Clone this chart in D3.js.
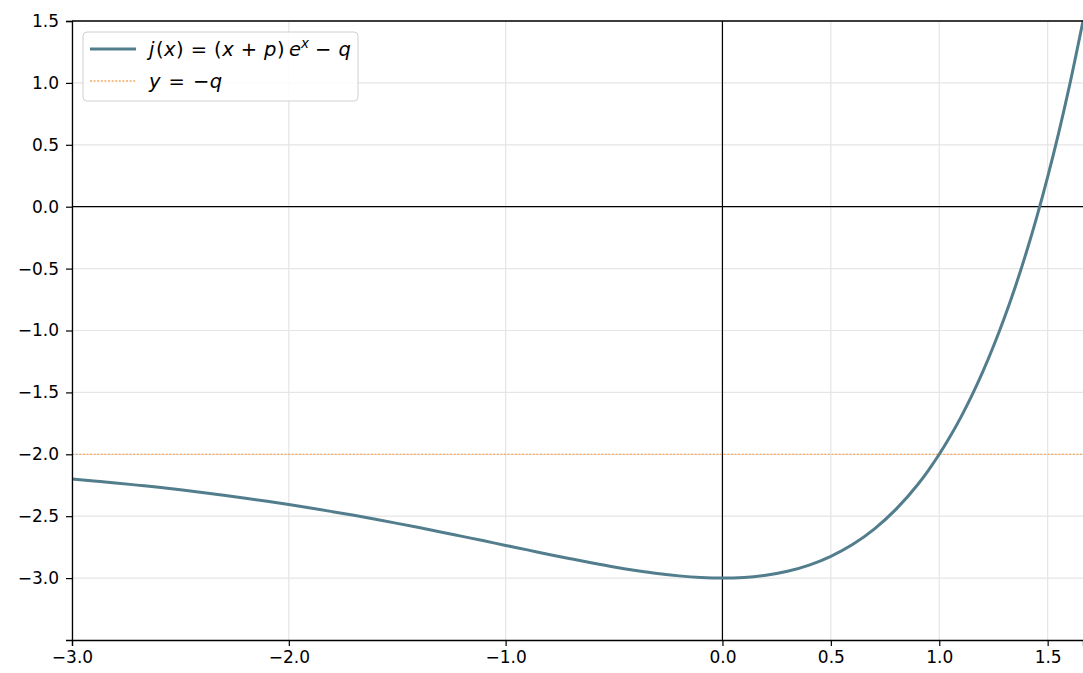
<!DOCTYPE html>
<html>
<head>
<meta charset="utf-8">
<script src="https://cdn.jsdelivr.net/npm/d3@7"></script>
<style>
  body { margin: 0; background: #fff; }
  svg { font-family: "DejaVu Sans", sans-serif; }
  .tick text { font-size: 17px; fill: #000; }
  .grid line { stroke: #e5e5e5; stroke-width: 1.2; }
</style>
</head>
<body>
<svg width="1083" height="673"></svg>
<script>
// curve samples j(x)
var xs = [-3.0, -2.9, -2.8, -2.7, -2.6, -2.5, -2.4, -2.3, -2.2, -2.1,
          -2.0, -1.9, -1.8, -1.7, -1.6, -1.5, -1.4, -1.3, -1.2, -1.1,
          -1.0, -0.9, -0.8, -0.7, -0.6, -0.5, -0.4, -0.3, -0.2, -0.1,
          0.0, 0.1, 0.2, 0.3, 0.4, 0.5, 0.6, 0.7, 0.8, 0.9,
          0.95, 1.0, 1.05, 1.1, 1.15, 1.2, 1.25, 1.3, 1.35, 1.4,
          1.45, 1.5, 1.55, 1.6, 1.663];
var ys = [-2.199, -2.215, -2.231, -2.249, -2.267, -2.287, -2.308, -2.331, -2.355, -2.380,
          -2.406, -2.434, -2.463, -2.493, -2.525, -2.558, -2.592, -2.627, -2.663, -2.699,
          -2.736, -2.772, -2.809, -2.844, -2.878, -2.910, -2.938, -2.963, -2.982, -2.995,
          -3.000, -2.995, -2.977, -2.945, -2.895, -2.824, -2.729, -2.604, -2.445, -2.246,
          -2.129, -2.000, -1.857, -1.700, -1.526, -1.336, -1.127, -0.899, -0.650, -0.378,
          -0.082, 0.241, 0.591, 0.972, 1.500];
var qLevel = -2.0;

var xTicks = [-3.0, -2.0, -1.0, 0.0, 0.5, 1.0, 1.5];
var yTicks = [-3.0, -2.5, -2.0, -1.5, -1.0, -0.5, 0.0, 0.5, 1.0, 1.5];
var xDomain = [-3.0, 1.663];
var yDomain = [-3.5, 1.5];

var svg = d3.select('svg');
var padding = { t: 21, r: 0, b: 33, l: 72 };
var width = 1083 - padding.l - padding.r;
var height = 673 - padding.t - padding.b;

var xScale = d3.scaleLinear().domain(xDomain).range([0, width]);
var yScale = d3.scaleLinear().domain(yDomain).range([height, 0]);

var chartG = svg.append('g')
    .attr('transform', 'translate(' + [padding.l, padding.t] + ')');

// gridlines
chartG.append('g')
    .attr('class', 'grid')
    .selectAll('line.vx')
    .data(xTicks)
    .enter().append('line')
    .attr('x1', function (d) { return xScale(d); })
    .attr('x2', function (d) { return xScale(d); })
    .attr('y1', 0).attr('y2', height);

chartG.append('g')
    .attr('class', 'grid')
    .selectAll('line.hy')
    .data(yTicks)
    .enter().append('line')
    .attr('y1', function (d) { return yScale(d); })
    .attr('y2', function (d) { return yScale(d); })
    .attr('x1', 0).attr('x2', width);

// zero lines
chartG.append('line')
    .attr('x1', xScale(0)).attr('x2', xScale(0))
    .attr('y1', 0).attr('y2', height)
    .attr('stroke', '#000').attr('stroke-width', 1.2);
chartG.append('line')
    .attr('x1', 0).attr('x2', width)
    .attr('y1', yScale(0)).attr('y2', yScale(0))
    .attr('stroke', '#000').attr('stroke-width', 1.2);

// y = -q
chartG.append('line')
    .attr('x1', 0).attr('x2', width)
    .attr('y1', yScale(qLevel)).attr('y2', yScale(qLevel))
    .attr('stroke', '#f4ab62')
    .attr('stroke-width', 1.3)
    .attr('stroke-dasharray', '2,1.6');

// the curve
var pts = xs.map(function (x, i) { return [x, ys[i]]; });
var line = d3.line()
    .x(function (d) { return xScale(d[0]); })
    .y(function (d) { return yScale(d[1]); })
    .curve(d3.curveMonotoneX);

chartG.append('path')
    .datum(pts)
    .attr('d', line)
    .attr('fill', 'none')
    .attr('stroke', '#527d8c')
    .attr('stroke-width', 3);

// axes
var fmt = d3.format('.1f');
var xAxis = d3.axisBottom(xScale).tickValues(xTicks).tickFormat(fmt).tickSize(6).tickPadding(5);
var yAxis = d3.axisLeft(yScale).tickValues(yTicks).tickFormat(fmt).tickSize(6).tickPadding(7);

var gx = chartG.append('g')
    .attr('transform', 'translate(0,' + height + ')')
    .call(xAxis);
var gy = chartG.append('g').call(yAxis);

[gx, gy].forEach(function (g) {
    g.select('.domain').attr('stroke', '#000').attr('stroke-width', 1.3);
    g.selectAll('.tick line').attr('stroke', '#000').attr('stroke-width', 1.2);
    g.selectAll('.tick text').style('font-family', '"DejaVu Sans", sans-serif');
});

// top spine
chartG.append('line')
    .attr('x1', 0).attr('x2', width)
    .attr('y1', 0).attr('y2', 0)
    .attr('stroke', '#000').attr('stroke-width', 1.3);

// legend
var legendG = svg.append('g').attr('transform', 'translate(83,32)');
legendG.append('rect')
    .attr('width', 275).attr('height', 69)
    .attr('rx', 4).attr('ry', 4)
    .attr('fill', 'rgba(255,255,255,0.85)')
    .attr('stroke', '#d0d0d0').attr('stroke-width', 1);

legendG.append('line')
    .attr('x1', 7).attr('x2', 53).attr('y1', 17).attr('y2', 17)
    .attr('stroke', '#527d8c').attr('stroke-width', 3);
legendG.append('line')
    .attr('x1', 7).attr('x2', 53).attr('y1', 49).attr('y2', 49)
    .attr('stroke', '#f4ab62').attr('stroke-width', 1.3)
    .attr('stroke-dasharray', '2,1.6');

// [text, style, extra gap before]
var label1 = [['j', 'italic', 0], ['(', 'normal', 1.5], ['x', 'italic', 0.5], [')', 'normal', 0.5],
              ['=', 'normal', 7], ['(', 'normal', 7], ['x', 'italic', 0.5], ['+', 'normal', 7],
              ['p', 'italic', 7], [')', 'normal', 0.5], ['e', 'italic', 4.5], ['x', 'sup', 0],
              ['−', 'normal', 6], ['q', 'italic', 7]];
var label2 = [['y', 'italic', 0], ['=', 'normal', 8], ['−', 'normal', 8], ['q', 'italic', 0.5]];

function mathText(parts, y) {
    var t = legendG.append('text')
        .attr('x', 66).attr('y', y)
        .attr('font-size', 19.5)
        .attr('fill', '#000');
    parts.forEach(function (p, i) {
        var ts = t.append('tspan').text(p[0]).attr('dx', p[2]);
        if (p[1] === 'italic') ts.attr('font-style', 'italic');
        if (p[1] === 'sup') {
            ts.attr('font-style', 'italic').attr('font-size', 13.5).attr('dy', -8);
        } else if (i > 0 && parts[i - 1][1] === 'sup') {
            ts.attr('dy', 8);
        }
    });
}
mathText(label1, 24);
mathText(label2, 56);
</script>
</body>
</html>
